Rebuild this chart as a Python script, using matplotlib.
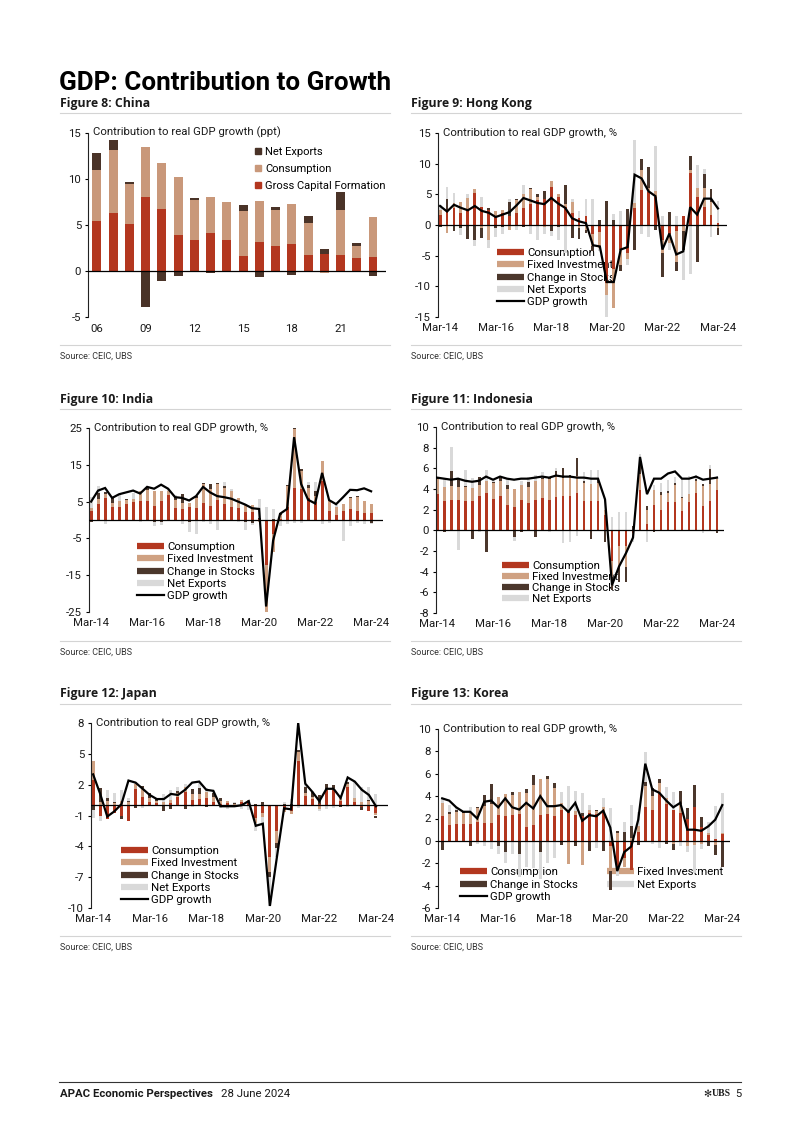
import numpy as np
import matplotlib
matplotlib.use("Agg")
import matplotlib.pyplot as plt
from matplotlib.lines import Line2D

plt.rcParams["font.family"] = ["Roboto", "DejaVu Sans"]

# ---------------- data ----------------
china_years = list(range(2006, 2024))
china_gcf  = [5.4, 6.3, 5.1, 8.0, 6.7, 3.9, 3.3, 4.1, 3.3, 1.6, 3.1, 2.7, 2.9, 1.7, 1.8, 1.7, 1.35, 1.45]
china_cons = [5.5, 6.8, 4.3, 5.4, 5.0, 6.3, 4.4, 3.9, 4.2, 4.9, 4.5, 3.95, 4.3, 3.5, -0.2, 4.9, 1.35, 4.4]
china_nx   = [1.85, 1.1, 0.25, -4.0, -1.1, -0.6, 0.2, -0.2, -0.1, 0.6, -0.7, 0.25, -0.5, 0.7, 0.6, 1.9, 0.3, -0.6]
china_tick_years = [2006, 2009, 2012, 2015, 2018, 2021]
china_tick_labels = ["06", "09", "12", "15", "18", "21"]

quarter_ticks = [0, 8, 16, 24, 32, 40]
quarter_labels = ["Mar-14", "Mar-16", "Mar-18", "Mar-20", "Mar-22", "Mar-24"]

hk_cons = [1.7, 2.5, 2.8, 2.0, 2.5, 5.2, 3.0, 2.5, 1.5, 2.0, 1.5, 2.0, 2.8, 3.5, 4.0, 4.2, 6.2, 4.6, 3.0, 2.0,
           1.2, 1.5, -1.5, -1.2, -9.4, -7.2, -4.0, -4.5, 2.8, 5.7, 5.3, 4.5, -2.5, -1.5, -1.0, 1.5, 8.5, 4.6, 3.0, 1.7, 0.3]
hk_fi   = [0.8, -1.3, 0.8, 1.8, 1.9, 0.6, -0.5, -2.5, 0.8, 0.5, -0.8, 2.0, 2.2, 2.3, 0.5, -0.4, 0.9, 0.5, 0.5, 1.7,
           -0.5, -0.8, -2.0, -2.5, -2.0, -6.3, -2.5, -1.0, 0.8, 3.3, 0.8, 1.0, -2.0, -1.5, -5.0, -1.0, 0.5, 1.5, 3.0, 2.0, -0.5]
hk_stk  = [-0.3, 1.8, -0.9, -0.5, -2.3, -2.5, -1.6, 0.3, -0.5, -0.3, 2.3, 0.3, -0.3, 0.3, 0.5, 1.4, -1.0, -0.4, 3.0, -2.2,
           -1.8, -0.5, -0.8, 0.8, 3.9, 0.8, -1.0, 2.6, -4.0, 1.7, 3.4, -0.8, -4.0, 2.1, -1.5, -3.0, 2.2, -6.0, 2.3, 2.2, -1.1]
hk_nx   = [0.8, 1.9, 1.6, -1.2, 0.6, -1.0, 1.6, -1.2, -1.5, -1.2, 0.5, -0.8, 1.5, -1.5, -2.4, -1.0, -0.8, -2.0, -4.5, 0.5,
           1.1, 2.8, 4.3, -0.5, -4.6, 1.0, 2.3, -1.0, 10.2, -1.5, -2.0, 7.3, 1.5, -1.0, 1.5, -5.0, -8.0, 3.7, 0.8, -2.0, 3.6]
hk_gdp  = [3.1, 2.2, 3.3, 2.8, 2.4, 3.1, 2.3, 2.0, 1.3, 1.7, 2.1, 3.2, 4.4, 4.0, 3.6, 3.4, 4.4, 3.5, 2.8, 1.1,
           0.6, 0.3, -3.3, -3.5, -9.3, -9.3, -4.0, -3.6, 8.2, 7.6, 5.5, 4.7, -4.0, -1.4, -4.8, -4.3, 2.9, 1.7, 4.3, 4.3, 2.7]

in_cons = [2.5, 4.3, 6.1, 3.4, 3.6, 4.3, 4.8, 5.2, 5.2, 3.9, 5.2, 6.8, 3.2, 3.0, 3.4, 3.2, 4.5, 3.9, 5.4, 4.3,
           3.6, 3.2, 2.3, 2.1, 0.3, -12.3, -3.8, 0.3, 3.4, 8.8, 8.4, 6.1, 4.8, 10.6, 2.5, 1.4, 2.5, 2.9, 2.5, 2.0, 2.0]
in_fi   = [0.8, 1.3, 1.0, 1.2, 1.6, 1.1, 0.9, 2.7, 3.0, 4.0, 2.7, 1.1, 2.2, 1.5, 1.1, 2.9, 5.2, 4.5, 4.3, 4.5,
           4.3, 2.7, 2.0, 2.0, -0.5, -12.7, -4.9, 1.0, 5.9, 15.8, 4.9, 2.5, 1.6, 5.3, 2.7, 2.2, 1.8, 3.0, 3.8, 3.2, 2.3]
in_stk  = [-0.5, 1.7, 0.4, 1.4, -0.3, 0.3, -0.3, -0.2, 0.4, -0.5, -0.6, -0.4, 0.9, 2.5, -0.6, 0.5, 0.4, 1.3, 0.3, 0.4,
           -0.3, -0.2, -0.6, -0.9, 0.2, -0.5, 0.3, 0.5, 0.3, 0.8, 0.5, 0.8, 1.5, -0.3, -0.2, -0.1, -0.3, 0.3, 0.1, -0.2, -0.8]
in_nx   = [3.0, 2.0, -1.0, 0.5, 1.5, -0.3, 1.6, -0.4, 0.5, -1.0, -0.7, 0.6, 0.4, -1.2, -2.6, -3.8, -0.5, -1.0, -2.8, 1.2,
           0.4, -0.4, -2.0, -0.4, 5.2, 3.5, 2.7, -1.5, -1.0, -0.8, -0.7, 0.8, 2.5, -0.8, -0.5, 0.6, -5.5, -1.5, -0.8, -1.0, -0.4]
in_gdp  = [5.0, 8.0, 8.7, 6.0, 7.0, 7.5, 8.0, 7.2, 9.0, 8.5, 9.6, 8.5, 6.2, 6.0, 5.3, 6.5, 9.0, 7.5, 6.5, 6.2,
           5.8, 5.0, 4.2, 3.2, 3.0, -23.5, -5.6, 1.7, 3.0, 22.5, 9.8, 5.5, 4.5, 12.8, 5.4, 4.3, 6.2, 8.2, 8.1, 8.6, 7.8]

id_cons = [3.5, 2.8, 2.9, 2.9, 2.8, 2.8, 3.3, 3.6, 3.0, 3.3, 2.5, 2.3, 2.9, 2.6, 2.9, 3.1, 2.9, 3.2, 3.3, 3.3,
           3.6, 2.8, 2.8, 2.8, 1.5, -3.0, -1.5, -1.5, -0.3, 3.9, 0.6, 2.5, 2.0, 2.7, 2.7, 1.9, 2.7, 3.6, 2.4, 2.8, 3.9]
id_fi   = [1.5, 1.4, 1.4, 1.3, 1.4, 1.3, 1.1, 1.2, 1.6, 1.5, 1.5, 1.7, 1.5, 1.6, 1.9, 1.9, 2.1, 2.1, 1.8, 1.9,
           1.7, 1.8, 1.7, 1.8, 0.5, -1.5, -2.0, -2.0, -0.2, 1.6, 1.4, 1.4, 1.4, 0.9, 1.7, 1.2, 0.8, 1.2, 1.9, 1.7, 1.1]
id_stk  = [0.1, -0.2, 1.4, 0.8, 0.1, -0.8, 0.8, -2.1, 0.1, 0.3, 0.4, -0.6, -0.2, 0.5, -0.6, 0.1, 0.2, 0.4, 0.9, 0.2,
           1.7, 0.2, -0.8, 0.3, -1.1, -1.3, -1.5, -1.5, 0.4, 1.6, 0.4, -0.2, 0.3, 0.2, 0.2, 0.1, -0.1, 0.2, 0.2, 1.4, -0.3]
id_nx   = [-0.1, 0.9, 2.4, -1.9, 1.5, 1.0, -0.2, 1.0, 0.2, 0.2, 0.7, -0.4, 0.4, 0.5, 0.6, 0.5, -0.2, 0.3, -1.2, -1.1,
           -0.5, 0.8, 1.3, 0.9, 1.0, 1.3, 1.8, 1.8, -0.6, 0.3, -1.1, 0.5, 0.9, 1.1, 0.6, 1.9, 1.8, 0.4, -0.3, 0.4, 0.3]
id_gdp  = [5.1, 5.0, 4.9, 5.0, 4.8, 4.7, 4.8, 5.2, 4.9, 5.2, 5.0, 4.9, 5.0, 5.0, 5.1, 5.2, 5.1, 5.3, 5.2, 5.2,
           5.1, 5.1, 5.0, 5.0, 3.0, -5.3, -3.5, -2.2, -0.7, 7.1, 3.5, 5.0, 5.0, 5.5, 5.7, 5.0, 5.0, 5.2, 4.9, 5.0, 5.1]

jp_cons = [2.5, -1.0, -1.3, -0.8, -1.0, -1.5, 1.6, 0.8, 0.3, 0.2, -0.1, 0.2, 0.8, 1.3, 0.5, 0.6, 0.7, 0.3, 0.1, 0.2,
           -0.1, 0.3, 0.2, -1.2, -0.8, -5.0, -2.5, -0.5, -0.6, 4.3, 0.9, 0.6, 0.1, 1.5, 1.5, 0.4, 1.8, 0.3, -0.2, -0.6, -0.8]
jp_fi   = [1.8, 0.3, 0.4, 0.2, 0.4, 0.3, 0.5, 0.9, 0.4, 0.2, 0.3, 0.3, 0.4, 0.5, 0.6, 0.5, 0.6, 0.5, 0.3, 0.2,
           0.1, 0.2, 0.3, -0.5, -0.3, -1.5, -1.2, -0.2, -0.3, 0.9, 0.3, 0.2, -0.4, 0.1, 0.2, 0.3, 0.3, 0.4, 0.3, 0.4, -0.2]
jp_stk  = [-0.5, 1.4, 0.3, 0.1, -0.3, 0.1, -0.3, 0.2, 0.5, 0.3, -0.5, -0.4, 0.2, -0.4, 0.5, 0.6, -0.2, 0.4, 0.3, -0.1,
           0.1, -0.1, -0.1, 0.1, 0.3, -0.5, -0.5, 0.1, 0.1, 0.2, 0.6, 0.5, 0.9, 0.5, 0.3, -0.2, 0.2, -0.1, -0.3, 0.1, -0.2]
jp_nx   = [-0.7, -0.5, 0.8, 0.9, 1.1, 0.3, 0.2, -0.3, -0.1, -0.1, 0.8, 1.0, 0.4, 0.3, -0.2, 0.5, 0.4, 0.2, -0.3, -0.3,
           0.1, -0.3, -0.4, -0.8, -0.9, -2.8, -0.8, 0.2, 0.5, -0.3, 0.3, 0.1, -0.2, -0.4, -0.3, 0.3, -0.2, 1.7, 1.5, 1.3, 1.1]
jp_gdp  = [3.0, 1.1, -1.1, -0.6, 0.1, 2.4, 2.2, 1.6, 1.0, 0.6, 0.6, 1.1, 1.0, 1.5, 2.2, 2.3, 1.5, 1.4, -0.1, -0.1,
           -0.1, 0.0, 0.4, -2.0, -1.8, -9.8, -5.0, -0.3, -0.4, 8.0, 2.1, 1.3, 0.4, 1.6, 1.6, 0.7, 2.7, 2.3, 1.5, 1.0, -0.1]

kr_cons = [2.2, 1.4, 1.5, 1.5, 1.5, 1.7, 1.6, 1.6, 2.3, 2.2, 2.3, 2.4, 1.2, 1.4, 2.3, 2.4, 2.2, 2.8, 2.5, 2.3,
           2.2, 2.5, 2.4, 2.6, -0.5, -2.4, -1.5, -2.6, 0.8, 3.0, 2.8, 4.3, 3.3, 2.8, 2.5, 2.0, 3.0, 1.2, 0.5, 0.2, 0.6]
kr_fi   = [1.2, 1.0, 1.1, 1.0, 1.1, 1.2, 1.5, 1.7, 1.6, 2.0, 1.8, 2.0, 3.1, 3.6, 3.2, 3.1, 2.5, 0.6, -2.1, 0.4,
           -2.2, 0.3, 0.3, 0.4, -2.2, 0.7, -0.8, 0.3, 0.5, 1.9, 1.2, 0.9, 0.5, -0.3, 0.8, -0.5, -0.4, -0.3, 0.2, -0.4, 0.1]
kr_stk  = [-0.8, 0.2, 0.2, 0.1, -0.5, 0.1, 1.0, 1.8, -0.5, -1.0, 0.3, -1.2, 0.3, 0.9, -1.0, 0.3, 0.5, -0.4, 0.2, -0.5,
           0.3, -0.9, 0.1, -0.9, -1.7, 0.2, 0.8, 1.0, -0.4, 0.4, 0.7, 0.3, -0.3, -0.5, 1.2, 0.9, 2.0, 0.9, -0.5, -0.9, -2.3]
kr_nx   = [0.3, 0.6, 0.2, -0.1, 0.4, -0.3, -0.5, -0.7, -0.7, -1.0, -1.2, -2.0, -2.3, -2.4, -2.4, -2.0, -1.5, 1.0, 2.2, 1.8,
           1.8, 0.4, -0.6, 0.8, 2.9, -0.7, 0.9, 1.9, 1.3, 2.6, -0.3, -0.6, 1.0, 1.6, -0.5, -0.5, -2.5, -0.4, 1.0, 2.9, 3.6]
kr_gdp  = [3.8, 3.6, 3.0, 2.6, 2.6, 2.0, 3.5, 3.6, 3.0, 3.8, 3.0, 2.8, 3.4, 2.9, 4.0, 3.1, 3.1, 3.2, 2.6, 3.4,
           1.8, 2.3, 2.2, 2.7, 1.2, -2.7, -1.0, -0.5, 1.9, 6.9, 4.6, 4.3, 3.6, 3.0, 3.4, 1.0, 1.0, 0.9, 1.3, 1.9, 3.2]

# ---------------- style ----------------
RED   = "#B3371F"
TAN   = "#CFA182"
DARK  = "#4B372C"
GREY  = "#D9D9D9"
CHINA_TAN = "#C9987A"
SEP   = "#D4D4D4"
TXT   = "#1a1a1a"
FS    = 8.2
TITLE_FONT = ["Open Sans", "DejaVu Sans"]

W, H = 802, 1134
fig = plt.figure(figsize=(W / 100, H / 100), dpi=100)


def ftext(x, y, s, **kw):
    kw.setdefault("va", "center")
    kw.setdefault("color", TXT)
    return fig.text(x / W, 1 - y / H, s, **kw)


def hline(x0, x1, y, color=SEP, lw=0.8):
    fig.add_artist(Line2D([x0 / W, x1 / W], [1 - y / H, 1 - y / H], color=color, lw=lw))


def add_ax(l, r, t, b):
    return fig.add_axes([l / W, 1 - b / H, (r - l) / W, (b - t) / H])


def style_ax(ax, ylim, yticks):
    ax.set_ylim(*ylim)
    ax.set_yticks(yticks)
    ax.set_yticklabels([str(v) for v in yticks])
    for s in ["top", "right", "bottom"]:
        ax.spines[s].set_visible(False)
    ax.spines["left"].set_color("#222222")
    ax.spines["left"].set_linewidth(0.8)
    ax.tick_params(axis="y", direction="out", length=2.5, width=0.8, pad=2.5,
                   labelsize=FS, labelcolor=TXT)
    ax.tick_params(axis="x", length=0, pad=4, labelsize=FS, labelcolor=TXT)
    ax.patch.set_alpha(0)
    ax.axhline(0, color="black", lw=0.9, zorder=4)


def stacked(ax, x, series, colors, width):
    pos = np.zeros(len(x))
    neg = np.zeros(len(x))
    for vals, c in zip(series, colors):
        v = np.asarray(vals, dtype=float)
        bottom = np.where(v >= 0, pos, neg)
        ax.bar(x, v, width, bottom=bottom, color=c, linewidth=0, zorder=2)
        pos += np.clip(v, 0, None)
        neg += np.clip(v, None, 0)


def bar_handle(c):
    return Line2D([], [], color=c, lw=4.5, solid_capstyle="butt")


def frame(x0, title, y_title, y_src):
    ftext(x0, y_title, title, fontsize=8.8, fontweight="bold", family=TITLE_FONT)
    hline(x0, x0 + 330, y_title + 10)
    hline(x0, x0 + 330, y_src - 11)
    ftext(x0, y_src, "Source: CEIC, UBS", fontsize=6.5, color="#333333")


def quarterly(box, xlim, data, ylim, yticks, legend_at, with_gdp=True, ncol=1, colspace=0.5, lsp=0.2):
    cons, fi, stk, nx, gdp = data
    ax = add_ax(*box)
    x = np.arange(len(cons))
    stacked(ax, x, [cons, fi, stk, nx], [RED, TAN, DARK, GREY], 0.42)
    ax.plot(x, gdp, color="black", lw=1.6, zorder=5, solid_joinstyle="miter")
    ax.set_xlim(*xlim)
    style_ax(ax, ylim, yticks)
    ax.set_xticks(quarter_ticks)
    ax.set_xticklabels(quarter_labels)
    ax.text(0.018, 1.0, "Contribution to real GDP growth, %", transform=ax.transAxes,
            fontsize=FS, color=TXT, va="center", ha="left")
    labels = ["Consumption", "Fixed Investment", "Change in Stocks", "Net Exports"]
    handles = [bar_handle(c) for c in [RED, TAN, DARK, GREY]]
    if with_gdp:
        labels.append("GDP growth")
        handles.append(Line2D([], [], color="black", lw=1.6))
    if ncol == 2:
        order = [0, 2, 4, 1, 3]
        handles = [handles[i] for i in order]
        labels = [labels[i] for i in order]
    lx, ly = legend_at
    leg = ax.legend(handles, labels, loc="upper left", bbox_to_anchor=(lx / W, 1 - ly / H),
                    bbox_transform=fig.transFigure, frameon=False, fontsize=FS, ncol=ncol,
                    handlelength=2.4, handletextpad=0.25, labelspacing=lsp, borderpad=0,
                    borderaxespad=0, columnspacing=colspace)
    leg.set_zorder(1)
    return ax


# ---------------- header ----------------
ftext(59, 83, "GDP: Contribution to Growth", fontsize=18.7, fontweight="bold", color="black")

# ---------------- Figure 8: China ----------------
frame(60, "Figure 8: China", 103, 356)
ax = add_ax(88, 386, 132.7, 316.7)
xc = np.array(china_years)
stacked(ax, xc, [china_gcf, china_cons, china_nx], [RED, CHINA_TAN, "#4A3328"], 0.55)
ax.set_xlim(2005.45, 2023.8)
style_ax(ax, (-5, 15), [-5, 0, 5, 10, 15])
ax.set_xticks(china_tick_years)
ax.set_xticklabels(china_tick_labels)
ax.tick_params(axis="x", pad=5)
ax.text(0.018, 1.0, "Contribution to real GDP growth (ppt)", transform=ax.transAxes,
        fontsize=FS, color=TXT, va="center", ha="left")
ch_handles = [Line2D([], [], marker="s", ls="none", markersize=4.5, color=c)
              for c in ["#4A3328", CHINA_TAN, RED]]
leg = ax.legend(ch_handles, ["Net Exports", "Consumption", "Gross Capital Formation"],
                loc="upper left", bbox_to_anchor=(255 / W, 1 - 147 / H), bbox_transform=fig.transFigure,
                frameon=False, fontsize=FS - 0.2, handlelength=0.6, handletextpad=0.3,
                labelspacing=0.62, borderpad=0, borderaxespad=0)
leg.set_zorder(1)

# ---------------- Figure 9: Hong Kong ----------------
frame(411, "Figure 9: Hong Kong", 103, 356)
quarterly((438, 727, 133, 317), (-0.3, 41.3), (hk_cons, hk_fi, hk_stk, hk_nx, hk_gdp),
          (-15, 15), [-15, -10, -5, 0, 5, 10, 15], (497, 248))

# ---------------- Figure 10: India ----------------
frame(60, "Figure 10: India", 399, 652)
quarterly((89, 383, 428, 612), (-0.3, 41.7), (in_cons, in_fi, in_stk, in_nx, in_gdp),
          (-25, 25), [-25, -15, -5, 5, 15, 25], (137, 542))

# ---------------- Figure 11: Indonesia ----------------
frame(411, "Figure 11: Indonesia", 399, 652)
quarterly((436, 724, 427, 613), (-0.15, 41.0), (id_cons, id_fi, id_stk, id_nx, id_gdp),
          (-8, 10), list(range(-8, 11, 2)), (502, 561), with_gdp=False, lsp=0.1)

# ---------------- Figure 12: Japan ----------------
frame(60, "Figure 12: Japan", 694, 947)
quarterly((91, 388, 723, 908), (-0.3, 41.7), (jp_cons, jp_fi, jp_stk, jp_nx, jp_gdp),
          (-10, 8), [-10, -7, -4, -1, 2, 5, 8], (121, 846))

# ---------------- Figure 13: Korea ----------------
frame(411, "Figure 13: Korea", 694, 947)
kax = quarterly((438, 730, 729, 908), (-0.6, 41.1), (kr_cons, kr_fi, kr_stk, kr_nx, kr_gdp),
                (-6, 10), list(range(-6, 11, 2)), (460, 867), ncol=2, colspace=2.5, lsp=0.22)

# ---------------- footer ----------------
hline(59, 741, 1082, color="#333333", lw=0.8)
ftext(60, 1094, "APAC Economic Perspectives", fontsize=8.2, fontweight="bold")
ftext(221, 1094, "28 June 2024", fontsize=8.2)
ftext(711, 1094, "\u273B", fontsize=7, ha="right", family=["DejaVu Sans"])
ftext(712, 1094, "UBS", fontsize=7, family=["Liberation Serif"], fontweight="bold")
ftext(741, 1094, "5", fontsize=8, ha="right")

fig.savefig("out.png", dpi=100)
